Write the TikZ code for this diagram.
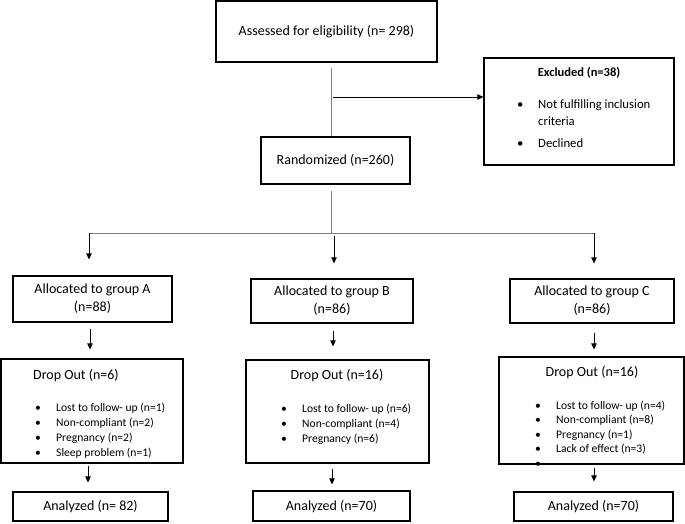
\documentclass[tikz,border=0pt]{standalone}
\usepackage{fontspec}
\setmainfont{Carlito}
\usetikzlibrary{arrows.meta}
\usetikzlibrary{calc}
\usetikzlibrary{positioning}

\tikzset{
    box/.style={draw, line width=1.2pt, inner sep=0pt, align=center},
    feed/.style={draw=gray, line width=0.7pt},
    flow/.style={-{Triangle[length=6pt,width=5.5pt]}, line width=0.9pt},
    list/.style={anchor=north west, inner sep=0pt, align=left, font=\fontsize{11.6}{15}\selectfont},
}
\newcommand{\bul}{\makebox[21pt][l]{\textbullet}}

\begin{document}
\begin{tikzpicture}[x=1pt, y=-1pt, font=\fontsize{14}{18}\selectfont]
    \useasboundingbox (0,0) rectangle (685,523);

    \coordinate (split) at (333,97);
    \coordinate (fork) at (331,233);
    \coordinate (forkA) at (89,233);
    \coordinate (forkB) at (334,233);
    \coordinate (forkC) at (594,233);

    % top of the chart
    \node[box, minimum width=221pt, minimum height=61pt] (assess) at (326.5,31.5) {Assessed for eligibility (n= 298)};
    \node[box, minimum width=149pt, minimum height=47pt] (rand) at (335.5,160.5) {Randomized (n=260)};
    \node[box, minimum width=190pt, minimum height=107pt] (excl) at (579,111.5) {};
    \node[inner sep=0pt, font=\fontsize{12.5}{14}\selectfont] (exclT) at (579,73) {\textbf{Excluded (n=38)}};
    \node[list, font=\fontsize{12.7}{17}\selectfont] (exclL) at (517,99) {\bul Not fulfilling inclusion\\ \hspace*{21pt}criteria\\[5pt] \bul Declined};

    \draw[feed] ([xshift=4.5pt, yshift=-5pt]assess.south) -- ([xshift=-4.5pt]rand.north);
    \draw[flow] (split) -- (split -| excl.west);
    \draw[feed] ([xshift=-4.5pt, yshift=-6pt]rand.south) -- (fork);
    \draw[feed] (forkA) -- (forkC);

    % group A
    \node[box, minimum width=159pt, minimum height=46pt] (grpA) at (92.5,299) {Allocated to group A\\(n=88)};
    \node[box, minimum width=182pt, minimum height=104pt] (dropA) at (92,411) {};
    \node[anchor=west, inner sep=0pt] (dropAT) at (33,375) {Drop Out (n=6)};
    \node[list] (dropAL) at (35,402.5) {\bul Lost to follow- up (n=1)\\ \bul Non-compliant (n=2)\\ \bul Pregnancy (n=2)\\ \bul Sleep problem (n=1)};
    \node[box, minimum width=155pt, minimum height=29pt] (anaA) at (90.5,506.5) {Analyzed (n= 82)};

    % group B
    \node[box, minimum width=162pt, minimum height=44pt] (grpB) at (332,301) {Allocated to group B\\(n=86)};
    \node[box, minimum width=183pt, minimum height=103pt] (dropB) at (337.5,411.5) {};
    \node[inner sep=0pt] (dropBT) at (337,375) {Drop Out (n=16)};
    \node[list] (dropBL) at (281,403.5) {\bul Lost to follow- up (n=6)\\ \bul Non-compliant (n=4)\\ \bul Pregnancy (n=6)};
    \node[box, minimum width=157pt, minimum height=30pt] (anaB) at (331.5,506) {Analyzed (n=70)};

    % group C
    \node[box, minimum width=164pt, minimum height=44pt] (grpC) at (592,301) {Allocated to group C\\(n=86)};
    \node[box, minimum width=185pt, minimum height=107pt] (dropC) at (591.5,410.5) {};
    \node[inner sep=0pt] (dropCT) at (592,372) {Drop Out (n=16)};
    \node[list, font=\fontsize{11.6}{14.6}\selectfont] (dropCL) at (535,400.5) {\bul Lost to follow- up (n=4)\\ \bul Non-compliant (n=8)\\ \bul Pregnancy (n=1)\\ \bul Lack of effect (n=3)\\ \textbullet};
    \node[box, minimum width=159pt, minimum height=29pt] (anaC) at (593.5,506.5) {Analyzed (n=70)};

    \draw[flow, shorten >=16pt] (forkA) -- (forkA |- grpA.north);
    \draw[flow, shorten <=3pt, shorten >=15pt] (forkB) -- (forkB |- grpB.north);
    \draw[flow, shorten >=15pt] (forkC) -- (forkC |- grpC.north);

    \draw[flow, shorten <=6pt, shorten >=9pt] ([xshift=-2.5pt]grpA.south) -- ([xshift=-2.5pt]grpA.south |- dropA.north);
    \draw[flow, shorten <=7pt, shorten >=13pt] ([xshift=1pt]grpB.south) -- ([xshift=1pt]grpB.south |- dropB.north);
    \draw[flow, shorten <=9pt, shorten >=7pt] ([xshift=2pt]grpC.south) -- ([xshift=2pt]grpC.south |- dropC.north);

    \draw[flow, shorten <=2pt, shorten >=9pt] ([xshift=-4pt]dropA.south) -- ([xshift=-4pt]dropA.south |- anaA.north);
    \draw[flow, shorten <=5pt, shorten >=6pt] ([xshift=-5.5pt]dropB.south) -- ([xshift=-5.5pt]dropB.south |- anaB.north);
    \draw[flow, shorten <=3pt, shorten >=10pt] ([xshift=2.5pt]dropC.south) -- ([xshift=2.5pt]dropC.south |- anaC.north);
\end{tikzpicture}
\end{document}
